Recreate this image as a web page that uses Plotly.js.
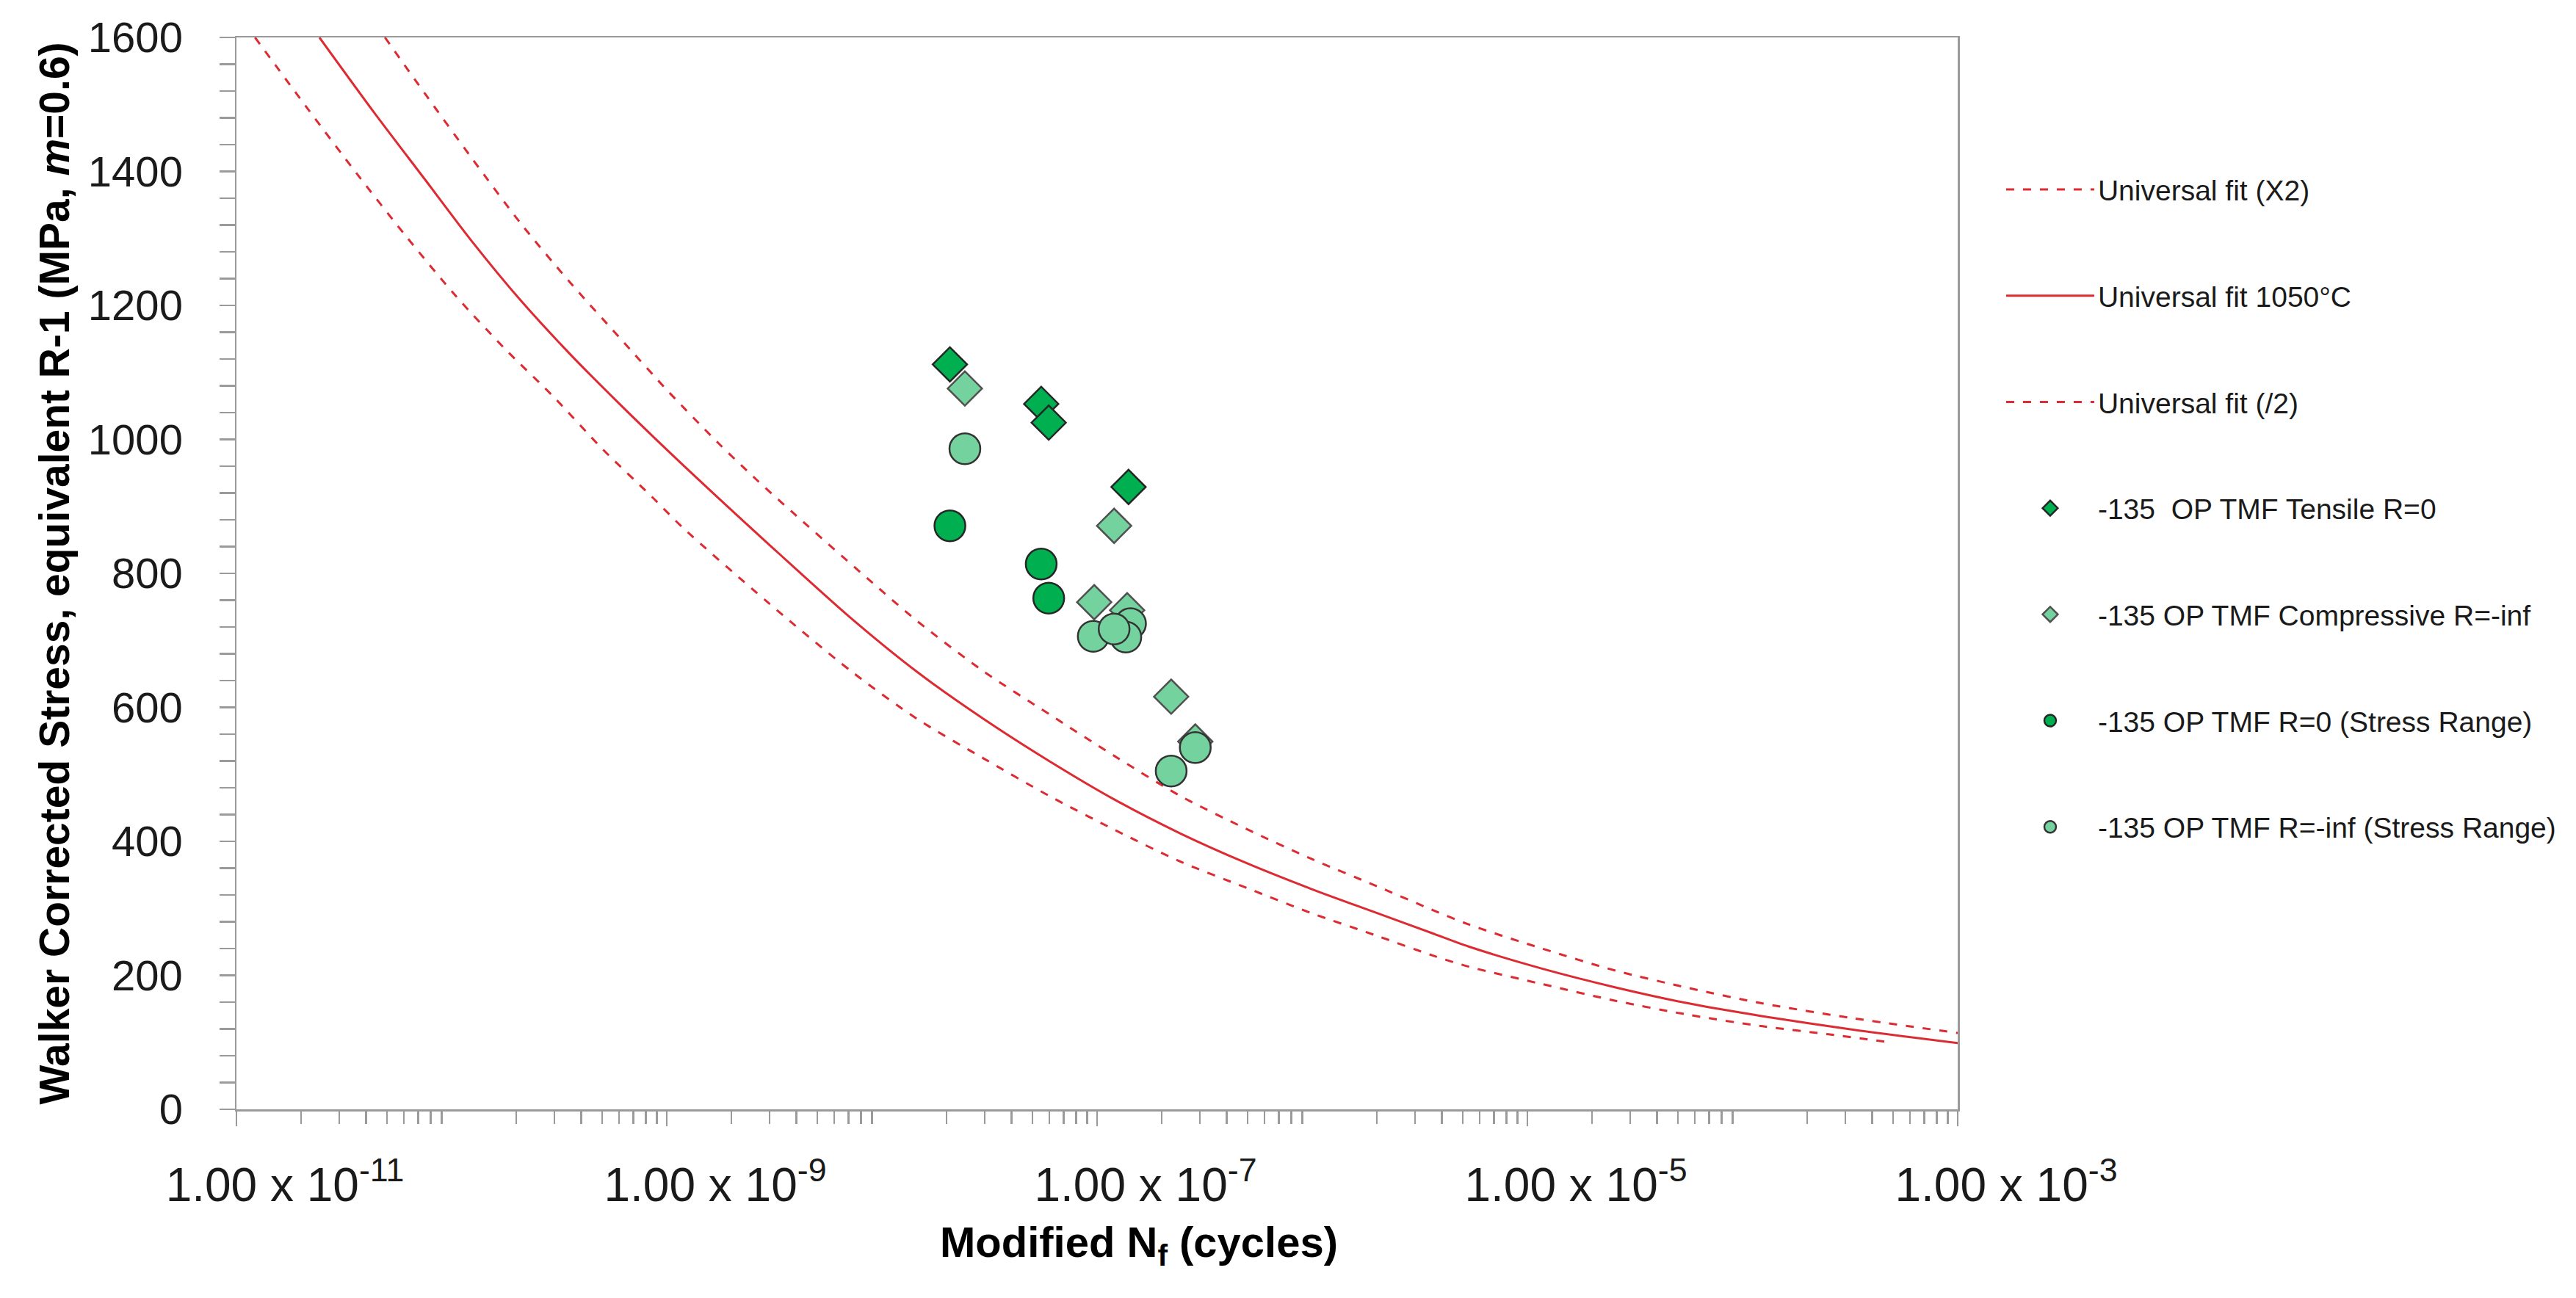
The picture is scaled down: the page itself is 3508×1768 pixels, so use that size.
<!DOCTYPE html>
<html><head><meta charset="utf-8">
<script src="https://cdn.plot.ly/plotly-3.0.1.min.js"></script>
<style>html,body{margin:0;padding:0;background:#fff}#chart{width:3508px;height:1768px}</style>
</head><body><div id="chart"></div>
<script>
// Universal fit (X2) – upper dashed
const fitUpperN = [4.90e-11, 7.60e-11, 1.24e-10, 2.10e-10, 3.56e-10, 6.03e-10, 1.02e-9, 1.73e-9, 2.61e-9, 3.94e-9, 9.73e-9, 1.47e-8, 2.96e-8, 5.98e-8, 1.21e-7, 2.43e-7, 4.91e-7, 9.89e-7, 2.00e-6, 3.60e-6, 5.33e-6, 1.17e-5, 2.57e-5, 5.64e-5, 1.24e-4, 3.26e-4, 1.0e-3];
const fitUpperS = [1600, 1514, 1420, 1322, 1234, 1152, 1071, 995, 940, 888, 777, 728, 654, 590, 527, 468, 419, 374, 333, 298, 276, 240, 207, 181, 158, 136, 114];
// Universal fit 1050°C – solid
const fitMainN = [2.43e-11, 4.34e-11, 7.60e-11, 1.24e-10, 2.10e-10, 3.56e-10, 6.03e-10, 1.02e-9, 1.73e-9, 2.92e-9, 7.19e-9, 1.47e-8, 2.96e-8, 5.98e-8, 1.21e-7, 2.43e-7, 4.91e-7, 9.89e-7, 2.00e-6, 3.60e-6, 5.33e-6, 1.17e-5, 2.57e-5, 5.64e-5, 1.24e-4, 3.26e-4, 1.0e-3];
const fitMainS = [1600, 1489, 1386, 1296, 1207, 1127, 1053, 982, 913, 846, 733, 652, 583, 520, 462, 412, 368, 329, 293, 263, 243, 210, 182, 158, 139, 119, 99];
// Universal fit (/2) – lower dashed
const fitLowerN = [1.22e-11, 2.15e-11, 3.64e-11, 6.15e-11, 1.04e-10, 1.76e-10, 2.99e-10, 5.05e-10, 8.55e-10, 1.19e-9, 2.92e-9, 7.19e-9, 1.47e-8, 2.96e-8, 5.98e-8, 1.21e-7, 2.43e-7, 4.91e-7, 9.89e-7, 2.00e-6, 3.60e-6, 5.33e-6, 1.17e-5, 2.57e-5, 5.64e-5, 1.24e-4, 2.51e-4, 4.86e-4];
const fitLowerS = [1600, 1493, 1396, 1303, 1215, 1136, 1063, 985, 914, 868, 758, 654, 582, 524, 468, 417, 370, 331, 293, 259, 230, 213, 187, 162, 141, 124, 112, 100];

// test data
const tensileN = [2.07e-8, 5.50e-8, 5.96e-8, 1.40e-7];
const tensileS = [1112, 1053, 1025, 929];
const compN = [2.43e-8, 1.20e-7, 9.70e-8, 1.38e-7, 2.21e-7, 2.86e-7];
const compS = [1076, 871, 757, 745, 616, 549];
const r0N = [2.07e-8, 5.50e-8, 5.96e-8];
const r0S = [871, 814, 763];
const rinfN = [2.43e-8, 1.43e-7, 9.60e-8, 1.36e-7, 1.20e-7, 2.86e-7, 2.21e-7];
const rinfS = [986, 725, 706, 705, 717, 540, 505];

// axis ticks (labelled decades)
const labelTicks = [1e-11, 1e-9, 1e-7, 1e-5, 1e-3];
const labelText = ['1.00 x 10<sup>-11</sup>', '1.00 x 10<sup>-9</sup>', '1.00 x 10<sup>-7</sup>', '1.00 x 10<sup>-5</sup>', '1.00 x 10<sup>-3</sup>'];

const legendNames = ['Universal fit (X2)', 'Universal fit 1050°C', 'Universal fit (/2)',
  '-135\u00a0 OP TMF Tensile R=0', '-135 OP TMF Compressive R=-inf',
  '-135 OP TMF R=0 (Stress Range)', '-135 OP TMF R=-inf (Stress Range)'];

// minor ticks: 2..9 of every decade plus the unlabelled decades
const minorTicks = [];
for (let e = -11; e < -3; e++) {
  for (let d = 2; d <= 9; d++) minorTicks.push(d * Math.pow(10, e));
  if ((e + 1) % 2 !== 0) minorTicks.push(Math.pow(10, e + 1));
}

const RED = '#DC2B32', GREEN = '#00B050', STRIPE = '#74D29E';
const FONT = 'Liberation Sans, Arial, sans-serif';
const lineStyle = (dash) => ({color: RED, width: 3, dash: dash, shape: 'spline', smoothing: 0.8});

const traces = [
  {x: fitUpperN, y: fitUpperS, name: legendNames[0], mode: 'lines', line: lineStyle('11px,12px'), legendgroup: 'g1'},
  {x: fitMainN, y: fitMainS, name: legendNames[1], mode: 'lines', line: lineStyle('solid'), legendgroup: 'g2'},
  {x: fitLowerN, y: fitLowerS, name: legendNames[2], mode: 'lines', line: lineStyle('11px,12px'), legendgroup: 'g3'},
  {x: tensileN, y: tensileS, name: legendNames[3], mode: 'markers', marker: {symbol: 'diamond', size: 36, color: GREEN, line: {color: '#262626', width: 2.5}}, legendgroup: 'g4'},
  {x: compN, y: compS, name: legendNames[4], mode: 'markers', marker: {symbol: 'diamond', size: 36, color: STRIPE, line: {color: '#505050', width: 2.5}}, legendgroup: 'g5'},
  {x: r0N, y: r0S, name: legendNames[5], mode: 'markers', marker: {symbol: 'circle', size: 42, color: GREEN, line: {color: '#262626', width: 2.5}}, legendgroup: 'g6'},
  {x: rinfN, y: rinfS, name: legendNames[6], mode: 'markers', marker: {symbol: 'circle', size: 42, color: STRIPE, line: {color: '#333333', width: 2.5}}, legendgroup: 'g7'}
];

const AX = '#9A9A9A';
const layout = {
  width: 3508, height: 1768,
  margin: {l: 322, r: 842, t: 51, b: 257},
  paper_bgcolor: '#fff', plot_bgcolor: '#fff',
  font: {family: FONT, color: '#1a1a1a'},
  showlegend: true,
  legend: {x: 1.026, y: 0.88, xanchor: 'left', yanchor: 'top', traceorder: 'grouped', tracegroupgap: 91,
    font: {size: 39, family: FONT, color: '#1a1a1a'}, itemwidth: 120, bgcolor: 'rgba(0,0,0,0)'},
  xaxis: {type: 'log', range: [-11, -3], tickmode: 'array', tickvals: labelTicks, ticktext: labelText,
    ticks: 'outside', ticklen: 20, tickwidth: 2.5, tickcolor: AX, showline: true, linecolor: AX, linewidth: 2.5,
    mirror: true, showgrid: false, zeroline: false, tickfont: {size: 64, family: FONT, color: '#1a1a1a'},
    ticklabelstandoff: 26, ticklabelshift: 66,
    minor: {tickmode: 'array', tickvals: minorTicks, ticks: 'outside', ticklen: 17, tickwidth: 2.5, tickcolor: AX, showgrid: false}},
  yaxis: {range: [0, 1600], tick0: 0, dtick: 200, ticks: 'outside', ticklen: 21, tickwidth: 2.5, tickcolor: AX,
    showline: true, linecolor: AX, linewidth: 2.5, mirror: true, showgrid: false, zeroline: false,
    tickfont: {size: 58, family: FONT, color: '#1a1a1a'}, ticklabelstandoff: 38,
    minor: {dtick: 40, ticks: 'outside', ticklen: 21, tickwidth: 2.5, tickcolor: AX, showgrid: false},
    title: {text: 'Walker Corrected Stress, equivalent R-1 (MPa, <i>m</i>=0.6)', font: {size: 57, family: FONT, weight: 'bold', color: '#000'}, standoff: 7}},
  annotations: [{text: 'Modified N<sub>f</sub> (cycles)', xref: 'paper', yref: 'paper', x: 0.5243, y: -0.1267,
    xanchor: 'center', yanchor: 'middle', showarrow: false, font: {size: 58, family: FONT, weight: 'bold', color: '#000'}}]
};

Plotly.newPlot('chart', traces, layout, {staticPlot: true, displayModeBar: false});
</script></body></html>
